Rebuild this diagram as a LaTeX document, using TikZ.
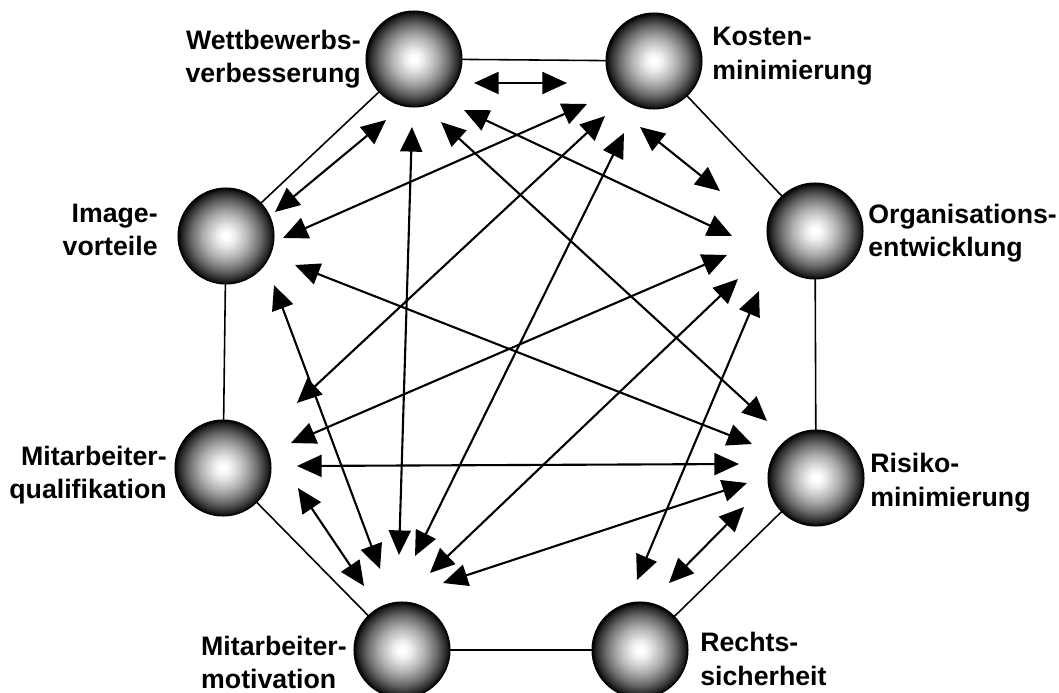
\documentclass[tikz,border=0pt]{standalone}
\usepackage{fontspec}
\setmainfont{Liberation Sans}
\usetikzlibrary{arrows.meta,positioning}

% white core, dark rim
\pgfdeclareradialshading{orb}{\pgfpoint{0bp}{0bp}}{%
  color(0bp)=(white); color(1.5bp)=(white); color(5bp)=(black!8);
  color(12bp)=(black!32); color(18bp)=(black!58); color(23bp)=(black!85);
  color(25bp)=(black); color(50bp)=(black)}

\tikzset{
  ball/.style={circle, draw, line width=0.6pt, shading=orb,
    minimum size=1.92cm, inner sep=0pt, outer sep=0pt},
  tag/.style={font=\bfseries\fontsize{15.2}{19}\selectfont, inner sep=0pt},
  rim/.style={line width=0.9pt},
  dart/.style={{Triangle[length=14pt,width=12.5pt]}-{Triangle[length=14pt,width=12.5pt]},
    line width=1.2pt}
}

\begin{document}
\begin{tikzpicture}[x=0.02cm, y=-0.02cm]
    \clip (0,0) rectangle (1059,693);

    % the eight goals
    \node[ball] (W) at (414,59) {};
    \node[ball] (K) at (654,61) {};
    \node[ball] (O) at (815,231) {};
    \node[ball] (R) at (816,478) {};
    \node[ball] (S) at (640,650) {};
    \node[ball] (M) at (402,650) {};
    \node[ball] (Q) at (223,468) {};
    \node[ball] (I) at (226,236) {};

    \node[tag, left=0.1cm of W, align=right] (Wl) {Wettbewerbs-\\verbesserung};
    \node[tag, right=0.2cm of K, align=left, yshift=0.1cm] (Kl) {Kosten-\\minimierung};
    \node[tag, right=0.1cm of O, align=left, yshift=-0.04cm] (Ol) {Organisations-\\entwicklung};
    \node[tag, right=0.12cm of R, align=left, yshift=-0.09cm] (Rl) {Risiko-\\minimierung};
    \node[tag, right=0.24cm of S, align=left, yshift=-0.18cm] (Sl) {Rechts-\\sicherheit};
    \node[tag, left=0.14cm of M, align=left, yshift=-0.25cm] (Ml) {Mitarbeiter-\\motivation};
    \node[tag, left=0.16cm of Q, align=right, yshift=-0.14cm] (Ql) {Mitarbeiter-\\qualifikation};
    \node[tag, left=0.4cm of I, align=right, yshift=0.12cm] (Il) {Image-\\vorteile};

    % ring
    \foreach \a/\b in {W/K,K/O,O/R,R/S,S/M,M/Q,Q/I,I/W} {
        \draw[rim] (\a) -- (\b);
    }

    % mutual effects
    \foreach \a/\ax/\ay/\b/\bx/\by in {
        W/60/24/K/-87/22,     W/50/51/O/-83/5,      W/27/63/R/-49/-57,
        W/-2/68/M/-3/-95,     W/-28/61/I/49/-24,    K/-14/66/O/-95/-40,
        K/-49/55/Q/74/-65,    K/-30/72/M/13/-94,    K/-67/43/I/57/2,
        O/-88/24/Q/68/-25,    O/-77/48/M/28/-77,    O/-56/60/S/-3/-70,
        R/-64/-34/I/69/29,    R/-77/-14/Q/74/-2,    R/-69/5/M/41/-67,
        R/-72/29/S/29/-67,    Q/75/20/M/-38/-64,    I/48/49/M/-22/-81} {
        \draw[dart] ([shift={(\ax,\ay)}]\a.center) -- ([shift={(\bx,\by)}]\b.center);
    }
\end{tikzpicture}
\end{document}
